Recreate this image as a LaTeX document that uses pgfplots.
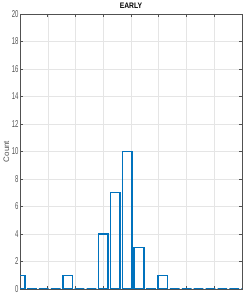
\documentclass[border=0pt]{standalone}
\usepackage{fontspec}
\setmainfont{Liberation Sans}
\usepackage{pgfplots}
\pgfplotsset{compat=1.18}
\definecolor{mblue}{RGB}{0,114,189}
\definecolor{axgray}{RGB}{38,38,38}
\begin{document}
\begin{tikzpicture}
\begin{axis}[
  scale only axis,
  width=222bp, height=275bp,
  xmin=0, xmax=8, ymin=0, ymax=20,
  xtick={0,1,...,8}, xticklabels={},
  ytick={0,2,...,20},
  grid=major,
  major grid style={draw=black!10, line width=0.5pt},
  axis line style={draw=axgray!80, line width=0.6pt},
  tick style={draw=axgray!80, line width=0.6pt},
  major tick length=3bp,
  tick align=inside,
  ticklabel style={font=\fontsize{10}{11}\selectfont, text=axgray!80, xscale=0.6},
  /pgf/number format/assume math mode=true,
  yticklabel style={xshift=1bp},
  ylabel={Count},
  ylabel style={font=\fontsize{8}{9}\selectfont, text=axgray!80, yshift=-3bp},
  title={\bfseries EARLY},
  title style={font=\fontsize{8}{9}\selectfont, text=black, xscale=0.85, yshift=-4bp},
  clip=true,
]
\addplot[ybar, bar width=0.35, draw=mblue, line width=1.5pt, fill=none]
 coordinates {
 (0,1) (0.429,0) (0.858,0) (1.287,0) (1.716,1) (2.145,0) (2.574,0) (3.003,4)
 (3.432,7) (3.861,10) (4.29,3) (4.719,0) (5.148,1) (5.577,0) (6.006,0)
 (6.435,0) (6.864,0) (7.293,0) (7.722,0) (8.151,0)
 };
\end{axis}
\pgfresetboundingbox
\path ([shift={(-20bp,-5bp)}]current axis.south west) rectangle ([shift={(4bp,14bp)}]current axis.north east);
\end{tikzpicture}
\end{document}
